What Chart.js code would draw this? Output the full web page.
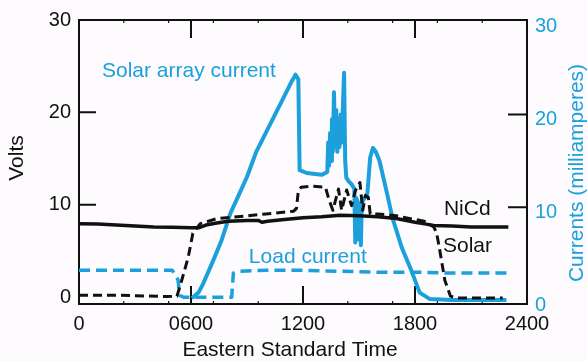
<!DOCTYPE html>
<html>
<head>
<meta charset="utf-8">
<script src="https://cdn.jsdelivr.net/npm/chart.js@4.4.0/dist/chart.umd.min.js"></script>
<style>
  html, body { margin: 0; padding: 0; background: #fdfbfd; }
  #chart { display: block; }
</style>
</head>
<body>
<canvas id="chart" width="587" height="362"></canvas>
<script>
// time axis in hours (0 - 24)
const xTicks = [0, 6, 12, 18, 24];
const xTickLabels = ['0', '0600', '1200', '1800', '2400'];
const minorHours = [2.4, 4.8, 7.2, 9.6, 14.4, 16.8, 19.2, 21.6];
const voltTicks = [0, 10, 20, 30];
const currentTicks = [0, 10, 20, 30];

// NiCd battery voltage (V)
const nicdHours = [0, 1, 2, 3, 4, 5, 6, 6.4, 6.8, 7.3, 8, 9, 9.6, 9.8, 10.1, 11, 12, 13, 14, 15, 16, 17, 18, 18.6, 19, 20, 21, 22, 23];
const nicdVolts = [7.95, 7.9, 7.8, 7.7, 7.6, 7.55, 7.5, 7.5, 7.8, 8.0, 8.2, 8.3, 8.3, 8.1, 8.2, 8.4, 8.6, 8.7, 8.85, 8.8, 8.7, 8.5, 8.1, 7.9, 7.75, 7.7, 7.6, 7.6, 7.6];

// Solar array voltage (V)
const solarHours = [0, 2, 4.7, 5.25, 5.5, 5.85, 6.1, 6.5, 7.4, 8.5, 10, 11.5, 11.65, 11.75, 11.9, 12.5, 13.2, 13.4, 13.6, 13.9, 14.07, 14.34, 14.6, 14.8, 15.05, 15.2, 15.35, 15.5, 15.6, 16, 17, 18, 18.5, 19.0, 19.15, 19.3, 19.6, 19.9, 20.2, 22.7];
const solarVolts = [0.2, 0.2, 0.05, 0.1, 1.8, 4.3, 6.9, 7.95, 8.5, 8.7, 9.0, 9.3, 9.6, 11.5, 11.9, 12.0, 11.9, 10.5, 9.4, 11.7, 9.4, 11.6, 9.9, 11.5, 12.4, 9.4, 11.0, 10.8, 9.0, 9.0, 8.8, 8.4, 8.2, 7.6, 7.0, 5.4, 1.8, 0.1, -0.1, -0.1];

// Solar array current (mA)
const arrayHours = [6.05, 6.4, 6.66, 7.2, 7.64, 8.1, 8.6, 9.0, 9.5, 10.5, 11.0, 11.4, 11.6, 11.75, 11.82, 12.2, 13.0, 13.3,
  13.35, 13.4, 13.45, 13.5, 13.55, 13.6, 13.66, 13.72, 13.78, 13.84, 13.9, 13.96, 14.02, 14.08, 14.14, 14.2, 14.26, 14.32,
  14.45, 14.6, 14.75, 14.8, 14.85, 14.95, 15.0, 15.05, 15.1, 15.15, 15.3, 15.45, 15.6, 15.75, 15.9, 16.1, 16.5, 16.8, 17.3, 17.8, 18.25, 18.8, 20, 22.9];
const arrayMilliamps = [0.2, 0.8, 1.8, 4.3, 6.45, 9.3, 11.5, 13.3, 16.0, 20.0, 22.0, 23.6, 24.3, 23.8, 14.0, 13.7, 13.5, 13.8,
  17.0, 14.5, 18.0, 15.0, 19.5, 16.0, 22.4, 16.5, 20.5, 16.0, 19.5, 16.5, 20.0, 17.0, 21.0, 24.5, 15.0, 13.2,
  12.8, 12.5, 12.0, 6.2, 11.0, 10.5, 6.5, 10.0, 5.9, 10.5, 11.0, 11.5, 15.4, 16.4, 16.0, 15.0, 11.5, 8.8, 5.6, 3.2, 0.8, 0.1, 0.0, 0.0];

// Load current (mA)
const loadHours = [0, 5.0, 5.3, 5.4, 5.6, 8.18, 8.27, 8.5, 10, 12, 14, 16, 18, 20, 22.9];
const loadMilliamps = [3.2, 3.2, 2.2, 0.5, 0.3, 0.3, 2.9, 3.1, 3.2, 3.2, 3.1, 3.0, 3.0, 2.9, 2.9];

const BLUE = '#1ba0dc';
const INK = '#111111';
const FONT = "'Liberation Sans', Arial, sans-serif";

const toPoints = (xs, ys) => xs.map((x, i) => ({ x: x, y: ys[i] }));

const notes = [
  { text: 'Solar array current', hour: 1.23, volts: 24.5, color: BLUE },
  { text: 'Load current', hour: 9.1, volts: 4.3, color: BLUE },
  { text: 'NiCd', hour: 19.55, volts: 9.5, color: INK },
  { text: 'Solar', hour: 19.5, volts: 5.5, color: INK }
];

const framePlugin = {
  id: 'frame',
  beforeDatasetsDraw(chart) {
    const { ctx, chartArea: a, scales } = chart;
    ctx.save();
    ctx.strokeStyle = INK;
    ctx.lineWidth = 2;
    ctx.strokeRect(a.left, a.top, a.right - a.left, a.bottom - a.top);
    ctx.beginPath();
    [6, 12, 18].forEach(h => {
      const px = scales.x.getPixelForValue(h);
      ctx.moveTo(px, a.top); ctx.lineTo(px, a.top + 18);
      ctx.moveTo(px, a.bottom); ctx.lineTo(px, a.bottom - 18);
    });
    [10, 20].forEach(v => {
      const pl = scales.yLeft.getPixelForValue(v);
      ctx.moveTo(a.left, pl); ctx.lineTo(a.left + 17, pl);
      const pr = scales.yRight.getPixelForValue(v);
      ctx.moveTo(a.right, pr); ctx.lineTo(a.right - 19, pr);
    });
    ctx.stroke();
    ctx.lineWidth = 1.2;
    ctx.beginPath();
    minorHours.forEach(h => {
      const px = scales.x.getPixelForValue(h);
      ctx.moveTo(px, a.top); ctx.lineTo(px, a.top + 3);
      ctx.moveTo(px, a.bottom); ctx.lineTo(px, a.bottom - 3);
    });
    ctx.stroke();
    ctx.restore();
  },
  afterDraw(chart) {
    const { ctx, scales } = chart;
    ctx.save();
    ctx.textBaseline = 'middle';
    ctx.font = '21px ' + FONT;
    notes.forEach(n => {
      ctx.fillStyle = n.color;
      ctx.textAlign = 'left';
      ctx.fillText(n.text, scales.x.getPixelForValue(n.hour), scales.yLeft.getPixelForValue(n.volts));
    });
    // axis titles
    ctx.textAlign = 'center';
    ctx.fillStyle = INK;
    ctx.fillText('Eastern Standard Time', 290, 350);
    ctx.save();
    ctx.translate(17, 158);
    ctx.rotate(-Math.PI / 2);
    ctx.fillText('Volts', 0, 0);
    ctx.restore();
    ctx.save();
    ctx.fillStyle = BLUE;
    ctx.translate(577, 173);
    ctx.rotate(-Math.PI / 2);
    ctx.fillText('Currents (milliamperes)', 0, 0);
    ctx.restore();
    ctx.restore();
  }
};

new Chart(document.getElementById('chart'), {
  type: 'line',
  data: {
    datasets: [
      {
        label: 'NiCd',
        data: toPoints(nicdHours, nicdVolts),
        yAxisID: 'yLeft',
        borderColor: INK,
        borderWidth: 3.5
      },
      {
        label: 'Solar',
        data: toPoints(solarHours, solarVolts),
        yAxisID: 'yLeft',
        borderColor: INK,
        borderWidth: 3,
        borderDash: [9, 5]
      },
      {
        label: 'Load current',
        data: toPoints(loadHours, loadMilliamps),
        yAxisID: 'yRight',
        borderColor: BLUE,
        borderWidth: 3.5,
        borderDash: [11, 6]
      },
      {
        label: 'Solar array current',
        data: toPoints(arrayHours, arrayMilliamps),
        yAxisID: 'yRight',
        borderColor: BLUE,
        borderWidth: 4
      }
    ]
  },
  options: {
    responsive: false,
    animation: false,
    layout: { padding: { top: 19 } },
    elements: {
      point: { radius: 0 },
      line: { tension: 0, fill: false, borderJoinStyle: 'round' }
    },
    plugins: {
      legend: { display: false },
      tooltip: { enabled: false }
    },
    scales: {
      x: {
        type: 'linear',
        min: 0,
        max: 24,
        afterFit: (scale) => { scale.height = 58; },
        afterBuildTicks: (scale) => { scale.ticks = xTicks.map(v => ({ value: v })); },
        grid: { display: false, drawTicks: false },
        border: { display: false },
        ticks: {
          padding: 8,
          color: INK,
          font: { family: FONT, size: 20 },
          maxRotation: 0,
          callback: (value) => xTickLabels[xTicks.indexOf(value)]
        }
      },
      yLeft: {
        type: 'linear',
        position: 'left',
        min: -0.75,
        max: 30,
        afterFit: (scale) => { scale.width = 79; },
        afterBuildTicks: (scale) => { scale.ticks = voltTicks.map(v => ({ value: v })); },
        grid: { display: false, drawTicks: false },
        border: { display: false },
        ticks: {
          padding: 8,
          color: INK,
          font: { family: FONT, size: 20 }
        }
      },
      yRight: {
        type: 'linear',
        position: 'right',
        min: -0.43,
        max: 30.2,
        afterFit: (scale) => { scale.width = 60; },
        afterBuildTicks: (scale) => { scale.ticks = currentTicks.map(v => ({ value: v })); },
        grid: { display: false, drawTicks: false },
        border: { display: false },
        ticks: {
          padding: 8,
          labelOffset: 5,
          color: BLUE,
          font: { family: FONT, size: 20 }
        }
      }
    }
  },
  plugins: [framePlugin]
});
</script>
</body>
</html>
